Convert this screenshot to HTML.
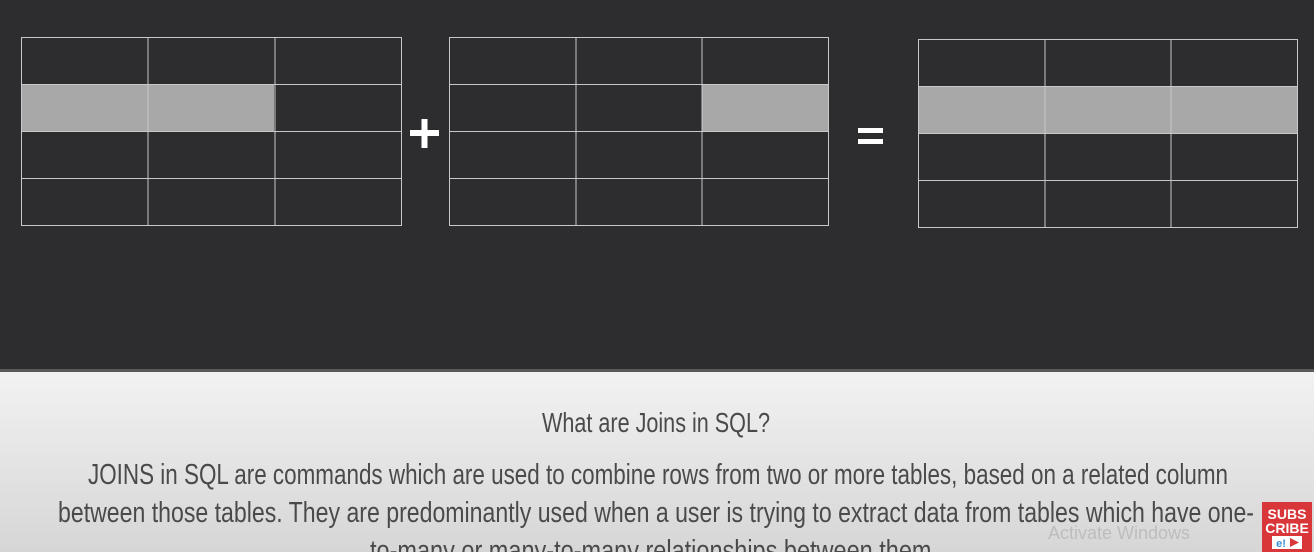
<!DOCTYPE html>
<html><head><meta charset="utf-8"><style>
html,body{margin:0;padding:0;width:1314px;height:552px;overflow:hidden;background:#2d2c2e}
svg{display:block}
</style></head><body>
<svg width="1314" height="552" viewBox="0 0 1314 552" xmlns="http://www.w3.org/2000/svg">
<defs>
<linearGradient id="g" x1="0" y1="0" x2="0" y2="1">
<stop offset="0" stop-color="#f2f2f2"/><stop offset="1" stop-color="#d6d6d6"/>
</linearGradient>
</defs>
<rect width="1314" height="552" fill="#2d2c2e"/>
<rect y="369" width="1314" height="3" fill="#5a5a5a"/>
<rect y="372" width="1314" height="180" fill="url(#g)"/>
<!-- highlights -->
<rect x="21" y="84" width="253" height="47" fill="#a8a8a8"/>
<rect x="702" y="84" width="126" height="47" fill="#a8a8a8"/>
<rect x="918" y="86" width="379" height="47" fill="#a8a8a8"/>
<g fill="none" stroke="#c8c8c8" stroke-width="1">
<rect x="21.5" y="37.5" width="380" height="188"/>
<line x1="148" y1="37" x2="148" y2="226"/><line x1="275" y1="37" x2="275" y2="226"/>
<line x1="21" y1="84.5" x2="401" y2="84.5"/><line x1="21" y1="131.5" x2="401" y2="131.5"/><line x1="21" y1="178.5" x2="401" y2="178.5"/>
<rect x="449.5" y="37.5" width="379" height="188"/>
<line x1="576" y1="37" x2="576" y2="226"/><line x1="702" y1="37" x2="702" y2="226"/>
<line x1="449" y1="84.5" x2="828" y2="84.5"/><line x1="449" y1="131.5" x2="828" y2="131.5"/><line x1="449" y1="178.5" x2="828" y2="178.5"/>
<rect x="918.5" y="39.5" width="379" height="188"/>
<line x1="1045" y1="39" x2="1045" y2="228"/><line x1="1171" y1="39" x2="1171" y2="228"/>
<line x1="918" y1="86.5" x2="1297" y2="86.5"/><line x1="918" y1="133.5" x2="1297" y2="133.5"/><line x1="918" y1="180.5" x2="1297" y2="180.5"/>
</g>
<!-- plus / equals -->
<rect x="410" y="130" width="29" height="6" fill="#fff"/>
<rect x="421.5" y="119" width="6" height="29" fill="#fff"/>
<rect x="858" y="128" width="25" height="5" fill="#fff"/>
<rect x="858" y="139" width="25" height="5" fill="#fff"/>
<g font-family="'Liberation Sans Narrow','Liberation Sans',sans-serif" fill="#4a4a4a">
<text x="542" y="432" font-size="28" textLength="228" lengthAdjust="spacingAndGlyphs">What are Joins in SQL?</text>
<text x="88" y="484" font-size="29" textLength="1140" lengthAdjust="spacingAndGlyphs">JOINS in SQL are commands which are used to combine rows from two or more tables, based on a related column</text>
<text x="58" y="522" font-size="29" textLength="1196" lengthAdjust="spacingAndGlyphs">between those tables.  They are predominantly used when a user is trying to extract data from tables which have one-</text>
<text x="370" y="560" font-size="29" textLength="568" lengthAdjust="spacingAndGlyphs">to-many or many-to-many relationships between them.</text>
</g>
<text x="1048" y="539" font-family="'Liberation Sans',sans-serif" font-size="18" fill="#bdbdbd">Activate Windows</text>
<rect x="1262" y="502" width="50" height="50" fill="#d9363a"/>
<text x="1287" y="519" font-family="'Liberation Sans',sans-serif" font-weight="bold" font-size="14" fill="#fff" text-anchor="middle">SUBS</text>
<text x="1287" y="533" font-family="'Liberation Sans',sans-serif" font-weight="bold" font-size="14" fill="#fff" text-anchor="middle">CRIBE</text>
<rect x="1272" y="536" width="30" height="13" fill="#fff"/>
<text x="1281" y="547" font-family="'Liberation Sans',sans-serif" font-weight="bold" font-size="11" fill="#3a8fd0" text-anchor="middle">e!</text>
<polygon points="1290,538 1299,542.5 1290,547" fill="#d9363a"/>
</svg>
</body></html>
